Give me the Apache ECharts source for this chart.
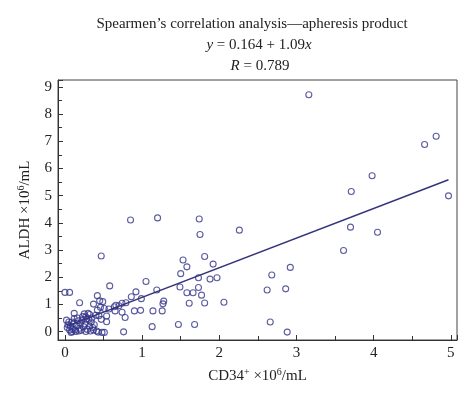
<!DOCTYPE html>
<html>
<head>
<meta charset="utf-8">
<script src="https://cdn.jsdelivr.net/npm/echarts@6/dist/echarts.min.js"></script>
<style>html,body{margin:0;padding:0;background:#fff}#c{width:474px;height:401px}</style>
</head>
<body>
<div id="c"></div>
<script>
// CD34+ (x, ×10^6/mL) and ALDH (y, ×10^6/mL) pairs
var cd34 = [
 3.16,4.66,4.81,3.98,3.71,4.97,3.70,4.05,3.61,2.92,2.68,2.62,2.86,2.66,2.88,
 2.26,1.74,1.75,1.20,0.85,0.47,
 1.53,1.81,1.58,1.92,1.50,1.73,1.88,1.97,1.49,1.73,1.58,1.66,1.77,1.61,1.81,2.06,1.47,1.68,
 1.05,0.58,0.92,1.19,0.86,0.99,1.13,1.27,1.28,1.14,1.26,0.90,0.98,0.76,
 0.66,0.74,0.79,0.65,0.74,0.78,0.64,0.70,
 0.00,0.06,0.19,0.42,0.45,0.49,0.37,0.51,0.57,0.42,0.46,0.44,0.54,0.54,0.32,0.27,0.30,0.12,0.02,0.11,0.17,0.22,0.26,0.32,0.37,0.43,0.48,0.51,0.06,0.03,0.13,0.19,
 0.04,0.08,0.09,0.10,0.15,0.16,0.20,0.23,0.24,0.28,0.29,0.34,0.35,0.38,0.40,0.41,0.47,0.05,0.07,0.14,0.25,0.33,
 0.18,0.21,0.27,0.31,0.36,0.12,0.09
];
var aldh = [
 8.71,6.88,7.18,5.73,5.15,4.99,3.84,3.65,2.98,2.36,2.08,1.53,1.57,0.35,-0.02,
 3.73,4.14,3.57,4.18,4.10,2.78,
 2.63,2.76,2.38,2.48,2.13,1.98,1.93,1.98,1.64,1.62,1.43,1.43,1.34,1.04,1.05,1.08,0.26,0.26,
 1.84,1.68,1.46,1.53,1.28,1.21,0.18,1.02,1.12,0.76,0.76,0.76,0.78,-0.01,
 0.97,1.04,1.06,0.76,0.71,0.52,0.91,0.95,
 1.44,1.44,1.06,1.32,1.13,1.10,1.01,0.85,0.83,0.79,0.89,0.58,0.57,0.36,0.63,0.54,0.67,0.67,0.42,0.30,0.40,0.42,0.28,0.20,0.06,-0.02,-0.03,-0.03,0.06,0.15,0.06,0.12,
 0.25,-0.03,0.35,0.10,0.22,0.50,0.30,0.55,0.18,0.45,0.08,0.35,0.50,0.25,0.60,0.02,0.45,0.35,0.20,0.00,0.65,0.02,
 0.02,0.05,0.00,0.45,0.15,0.48,0.00
];
// regression line y = 0.164 + 1.09x, endpoints
var fitX = [0.02, 4.97];
var fitY = [0.19, 5.58];
var titleLines = ['Spearmen\u2019s correlation analysis\u2014apheresis product', '{i|y} = 0.164 + 1.09{i|x}', '{i|R} = 0.789'];

var pts = cd34.map(function(v,i){return [v, aldh[i]];});
var fit = fitX.map(function(v,i){return [v, fitY[i]];});
var serif = '"Liberation Serif", "DejaVu Serif", serif';
var chart = echarts.init(document.getElementById('c'), null, {renderer:'canvas'});
chart.setOption({
  animation: false,
  backgroundColor: '#fff',
  graphic: [
    {type:'text', x:252, y:24, style:{text:titleLines[0], font:'15px '+serif, fill:'#222', textAlign:'center', textVerticalAlign:'middle'}},
    {type:'text', x:259, y:45, style:{text:titleLines[1], font:'15px '+serif, fill:'#222', textAlign:'center', textVerticalAlign:'middle', rich:{i:{fontStyle:'italic', fontFamily:serif, fontSize:15, fill:'#222'}}}},
    {type:'text', x:260, y:66, style:{text:titleLines[2], font:'15px '+serif, fill:'#222', textAlign:'center', textVerticalAlign:'middle', rich:{i:{fontStyle:'italic', fontFamily:serif, fontSize:15, fill:'#222'}}}}
  ],
  grid: {left:58, right:17, top:80, bottom:61, show:true, borderColor:'#444', borderWidth:1, containLabel:false},
  xAxis: {
    type:'value', min:-0.09, max:5.08, minInterval:1, maxInterval:1, splitNumber:5,
    axisLine:{show:true, onZero:false, lineStyle:{color:'#333', width:1}},
    axisTick:{show:true, inside:true, length:5, lineStyle:{color:'#333'}},
    minorTick:{show:true, splitNumber:2, length:4, lineStyle:{color:'#333'}},
    splitLine:{show:false},
    axisLabel:{showMinLabel:false, showMaxLabel:false, margin:6, color:'#222', fontFamily:serif, fontSize:15},
    name:'CD34{sup|+} \u00d710{sup|6}/mL', nameLocation:'middle', nameGap:27,
    nameTextStyle:{color:'#222', fontFamily:serif, fontSize:15, rich:{sup:{fontSize:10, fontFamily:serif, color:'#222', padding:[0,0,8,0]}}}
  },
  yAxis: {
    type:'value', min:-0.31, max:9.25, minInterval:1, maxInterval:1, splitNumber:9,
    axisLine:{show:true, onZero:false, lineStyle:{color:'#333', width:1}},
    axisTick:{show:true, inside:true, length:5, lineStyle:{color:'#333'}},
    minorTick:{show:true, splitNumber:2, length:4, lineStyle:{color:'#333'}},
    splitLine:{show:false},
    axisLabel:{showMinLabel:false, showMaxLabel:false, margin:6, color:'#222', fontFamily:serif, fontSize:15},
    name:'ALDH \u00d710{sup|6}/mL', nameLocation:'middle', nameGap:24,
    nameTextStyle:{color:'#222', fontFamily:serif, fontSize:15, rich:{sup:{fontSize:10, fontFamily:serif, color:'#222', padding:[0,0,8,0]}}}
  },
  series: [
    {type:'scatter', data:pts, symbol:'circle', symbolSize:6,
     itemStyle:{color:'rgba(255,255,255,0)', borderColor:'#33338a', borderWidth:1.1}, z:2},
    {type:'line', data:fit, symbol:'none', lineStyle:{color:'#34347a', width:1.5}, z:3}
  ]
});
</script>
</body>
</html>
